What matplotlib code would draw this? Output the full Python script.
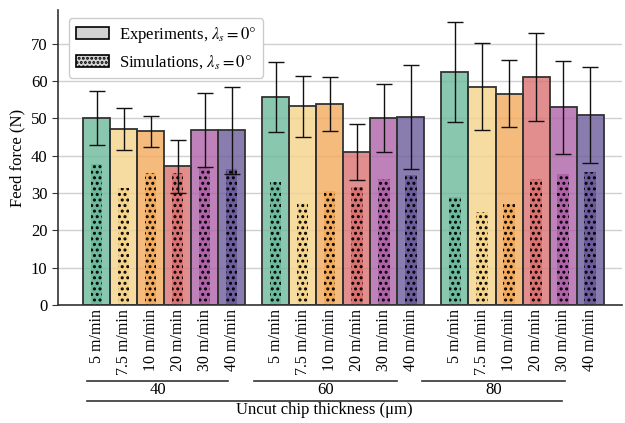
import matplotlib
matplotlib.use("Agg")
import matplotlib.pyplot as plt
import numpy as np
from matplotlib.lines import Line2D
from matplotlib.patches import Patch

plt.rcParams['font.family'] = ['Liberation Serif', 'DejaVu Serif']
plt.rcParams['mathtext.fontset'] = 'stix'
plt.rcParams['hatch.linewidth'] = 1.4

speeds = ["5 m/min", "7.5 m/min", "10 m/min", "20 m/min", "30 m/min", "40 m/min"]
thicknesses = ["40", "60", "80"]

exp_mean = [
    [50.0, 47.1, 46.5, 37.1, 46.9, 46.8],
    [55.7, 53.2, 53.8, 40.9, 50.2, 50.3],
    [62.3, 58.5, 56.6, 61.0, 52.9, 50.9],
]
exp_err = [
    [7.2, 5.6, 4.1, 7.2, 10.0, 11.6],
    [9.4, 8.1, 7.3, 7.5, 9.1, 13.9],
    [13.4, 11.7, 9.0, 11.8, 12.4, 12.8],
]
sim_mean = [
    [37.7, 31.3, 35.3, 35.3, 36.9, 36.3],
    [32.9, 27.3, 30.4, 31.5, 33.7, 34.9],
    [29.0, 25.0, 27.1, 33.7, 35.1, 35.7],
]

colors = ["#6cb99b", "#f4d48a", "#f2aa5c", "#db7272", "#ae62a8", "#6c5c9c"]

fig = plt.figure(figsize=(6.25, 4.23), dpi=100)
ax = fig.add_axes([58/625, 1-305/423, (622-58)/625, (305-10)/423])

n = len(speeds)
gap = 0.63
xs_all, labels_all = [], []
for g in range(len(thicknesses)):
    for i in range(n):
        x = g*(n+gap) + i
        xs_all.append(x)
        labels_all.append(speeds[i])
        ax.bar(x, exp_mean[g][i], width=1.0, color=colors[i], alpha=0.8,
               edgecolor='none', zorder=2)
        ax.bar(x, exp_mean[g][i], width=1.0, color='none',
               edgecolor='#333333', linewidth=1.3, zorder=4)
        ax.bar(x, sim_mean[g][i], width=0.42, color=colors[i], hatch='...',
               edgecolor='black', linewidth=0, zorder=3)
        ax.errorbar(x, exp_mean[g][i], yerr=exp_err[g][i], color='#111111',
                    capsize=5.8, elinewidth=1.0, capthick=1.0, zorder=5)

ax.set_xlim(-1.426, 19.44)
ax.set_ylim(0, 79)
ax.set_yticks(range(0, 80, 10))
ax.set_xticks(xs_all)
ax.set_xticklabels(labels_all, rotation=90, fontsize=11.5)
ax.tick_params(axis='x', length=0, pad=3)
ax.tick_params(axis='y', labelsize=12, length=4, color='#333333')
ax.set_ylabel("Feed force (N)", fontsize=12)
ax.grid(axis='y', color='#d0d0d0', linewidth=1.0, zorder=0)
ax.set_axisbelow(True)
for s in ['top', 'right']:
    ax.spines[s].set_visible(False)
for s in ['left', 'bottom']:
    ax.spines[s].set_color('#333333')
    ax.spines[s].set_linewidth(1.2)

handles = [
    Patch(facecolor='#d3d3d3', edgecolor='black', linewidth=1.2),
    Patch(facecolor='#d3d3d3', edgecolor='black', linewidth=1.2, hatch='....'),
]
ax.legend(handles, [r"Experiments, $\lambda_s = 0°$", r"Simulations, $\lambda_s = 0°$"],
          loc='upper left', bbox_to_anchor=(0.005, 1.0), fontsize=12,
          frameon=True, edgecolor='#cccccc', framealpha=1, handlelength=2.0,
          handletextpad=0.6)

W, H = 625, 423
grp_lines = [(87, 228), (254, 397), (422, 565)]
for (x0, x1), lab in zip(grp_lines, thicknesses):
    fig.add_artist(Line2D([x0/W, x1/W], [1-381/H, 1-381/H], color='#333333', lw=1.2))
    fig.text((x0+x1)/2/W, 1-390/H, lab, ha='center', va='center', fontsize=12)
fig.add_artist(Line2D([87/W, 562/W], [1-401/H, 1-401/H], color='#333333', lw=1.2))
fig.text(324.5/W, 1-410/H, "Uncut chip thickness (μm)", ha='center', va='center', fontsize=12)

fig.savefig("out.png", dpi=100)
